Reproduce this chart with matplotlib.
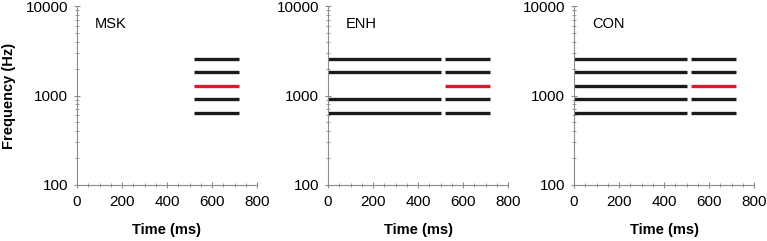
import numpy as np
import matplotlib.pyplot as plt
from matplotlib.ticker import MultipleLocator, LogLocator, NullFormatter

plt.rcParams['font.family'] = ['Liberation Sans', 'DejaVu Sans']

# tone frequencies (Hz), half-octave spacing
freqs = [640, 905, 1280, 1810, 2560]
target_idx = 2  # the red (signal) component

panels = ['MSK', 'ENH', 'CON']
# precursor segment (ms); None where there is none
precursor_on = [None, 0, 0]
precursor_off = [None, 500, 500]
# which precursor components are present in each panel
precursor_comps = [[], [0, 1, 3, 4], [0, 1, 2, 3, 4]]
# target segment (ms)
target_on = [520, 520, 520]
target_off = [720, 720, 720]

fig = plt.figure(figsize=(7.67, 2.41), dpi=100)
W, H = 767, 241
lefts = [77, 328, 574]
width = 180
top, bottom = 6, 185

black = '#1a1a1a'
red = '#d4202c'
lw = 2.4

for i, name in enumerate(panels):
    ax = fig.add_axes([lefts[i] / W, 1 - bottom / H, width / W, (bottom - top) / H])
    ax.set_yscale('log')
    ax.set_xlim(0, 800)
    ax.set_ylim(100, 10000)

    if precursor_on[i] is not None:
        for k in precursor_comps[i]:
            ax.hlines(freqs[k], precursor_on[i], precursor_off[i], color=black, lw=lw)
    for k, f in enumerate(freqs):
        c = red if k == target_idx else black
        ax.hlines(f, target_on[i], target_off[i], color=c, lw=lw)

    for s in ['top', 'right']:
        ax.spines[s].set_visible(False)
    for s in ['left', 'bottom']:
        ax.spines[s].set_color('#8c8c8c')
        ax.spines[s].set_linewidth(0.8)

    ax.xaxis.set_major_locator(MultipleLocator(200))
    ax.xaxis.set_minor_locator(MultipleLocator(50))
    ax.yaxis.set_minor_locator(LogLocator(base=10, subs=np.arange(2, 10), numticks=10))
    ax.yaxis.set_minor_formatter(NullFormatter())
    ax.set_yticks([100, 1000, 10000])
    ax.set_yticklabels(['100', '1000', '10000'])
    ax.tick_params(which='major', direction='inout', length=5, width=0.8,
                   color='#8c8c8c', labelsize=11, pad=4)
    ax.tick_params(which='minor', direction='inout', length=3, width=0.6,
                   color='#8c8c8c')
    ax.tick_params(axis='x', which='major', pad=5)

    ax.set_xlabel('Time (ms)', fontsize=10.5, fontweight='bold', labelpad=10)
    if i == 0:
        ax.set_ylabel('Frequency (Hz)', fontsize=10.5, fontweight='bold')
        ax.yaxis.set_label_coords(-0.34, 0.5)
    ax.text(0.1, 0.9, name, transform=ax.transAxes, fontsize=10.5, va='center', ha='left')

fig.savefig('out.png', dpi=100)
